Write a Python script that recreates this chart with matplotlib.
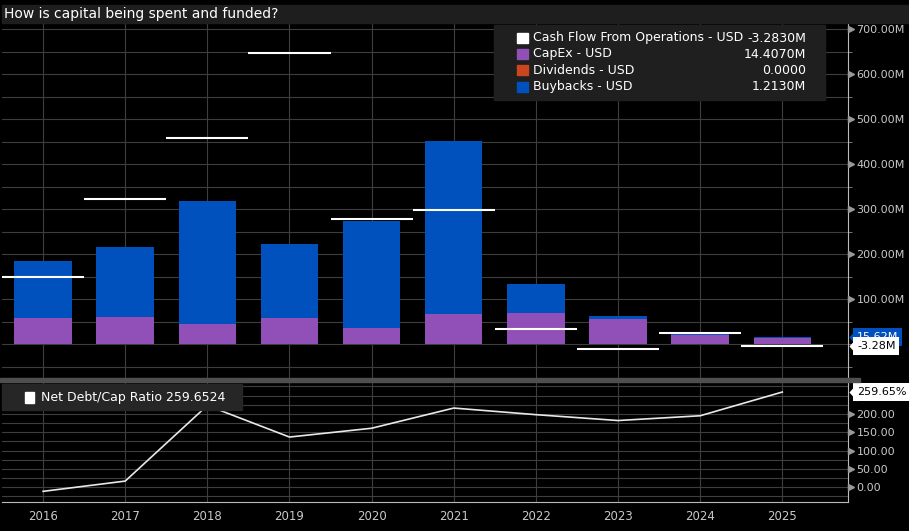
import numpy as np
import matplotlib.pyplot as plt
import matplotlib
from matplotlib.patches import Rectangle
import matplotlib.transforms as mtransforms
from matplotlib.ticker import MultipleLocator, FixedLocator, FuncFormatter

matplotlib.rcParams.update({'font.family': ['DejaVu Sans'], 'font.size': 10})

years = np.array([2016, 2017, 2018, 2019, 2020, 2021, 2022, 2023, 2024, 2025])
capex = np.array([58, 61, 45, 58, 36, 67, 70, 56, 20, 14.407])
dividends = np.array([0, 0, 0, 0, 0, 0, 0, 0, 0, 0.0])
buybacks = np.array([126, 155, 273, 166, 238, 385, 64, 7, 6, 1.213])
cfo = np.array([150, 324, 458, 647, 279, 299, 35, -10, 26, -3.283])
debt_cap = np.array([-11, 17, 223, 137, 161, 216, 198, 182, 195, 259.6524])

legend_labels = ['Cash Flow From Operations - USD', 'CapEx - USD', 'Dividends - USD', 'Buybacks - USD']
legend_values = ['-3.2830M', '14.4070M', '0.0000', '1.2130M']

WHITE = '#ffffff'
PURPLE = '#9150b8'
ORANGE = '#c9461f'
BLUE = '#0051bd'
legend_colors = [WHITE, PURPLE, ORANGE, BLUE]
GRID = '#3e3e3e'
TXT = '#c8c8c8'

W, H = 909, 531
fig = plt.figure(figsize=(W / 100, H / 100), dpi=100, facecolor='black')


def fx(px):
    return px / W


def fy(py):
    return 1 - py / H


def px_rect(x0, y0, x1, y1, color, z=5):
    fig.patches.append(Rectangle((fx(x0), fy(y1)), (x1 - x0) / W, (y1 - y0) / H,
                                 transform=fig.transFigure, color=color, zorder=z))


ax = fig.add_axes([fx(2), fy(378), fx(848) - fx(2), fy(24) - fy(378)], facecolor='black')
ax2 = fig.add_axes([fx(2), fy(502), fx(848) - fx(2), fy(382) - fy(502)], facecolor='black', sharex=ax)

# upper panel: stacked bars + cash flow lines
ax.bar(years, capex, 0.7, color=PURPLE, zorder=3)
ax.bar(years, dividends, 0.7, bottom=capex, color=ORANGE, zorder=3)
ax.bar(years, buybacks, 0.7, bottom=capex + dividends, color=BLUE, zorder=3)
ax.hlines(cfo, years - 0.5, years + 0.5, color=WHITE, lw=1.5, zorder=4)

up_ticks = [100, 200, 300, 400, 500, 600, 700]
ax.set_xlim(2015.5, 2025.8)
ax.set_ylim(-75, 712)
ax.yaxis.set_major_locator(FixedLocator(up_ticks))
ax.yaxis.set_minor_locator(MultipleLocator(50))
ax.yaxis.set_major_formatter(FuncFormatter(lambda v, p: '%.2fM' % v))
ax.yaxis.tick_right()
ax.tick_params(axis='y', which='major', length=0, pad=6, labelcolor=TXT, labelsize=8)
ax.tick_params(axis='y', which='minor', length=3, color='#888888', direction='out')
ax.tick_params(axis='x', length=0, labelbottom=False)
ax.set_xticks(years)
ax.grid(True, which='both', axis='y', color=GRID, lw=0.8)
ax.grid(True, axis='x', color=GRID, lw=0.8)
ax.set_axisbelow(True)
for s in ['top', 'bottom', 'left']:
    ax.spines[s].set_visible(False)
ax.spines['right'].set_color('#bbbbbb')

# lower panel: net debt / cap
low_ticks = [0, 50, 100, 150, 200]
ax2.plot(years, debt_cap, color='#e8e8e8', lw=1.2, zorder=3)
ax2.set_ylim(-40, 287)
ax2.yaxis.set_major_locator(FixedLocator(low_ticks))
ax2.yaxis.set_minor_locator(MultipleLocator(25))
ax2.yaxis.set_major_formatter(FuncFormatter(lambda v, p: '%.2f' % v))
ax2.yaxis.tick_right()
ax2.tick_params(axis='y', which='major', length=0, pad=6, labelcolor=TXT, labelsize=8)
ax2.tick_params(axis='y', which='minor', length=0)
ax2.set_xticks(years)
ax2.set_xticklabels([str(y) for y in years])
ax2.tick_params(axis='x', length=0, pad=6, labelcolor=TXT, labelsize=8.5)
ax2.grid(True, which='both', axis='y', color=GRID, lw=0.8)
ax2.grid(True, axis='x', color=GRID, lw=0.8)
ax2.set_axisbelow(True)
for s in ['top', 'left']:
    ax2.spines[s].set_visible(False)
ax2.spines['right'].set_color('#bbbbbb')
ax2.spines['bottom'].set_color('#bbbbbb')

# small arrow tick markers
for a, ticks in [(ax, up_ticks), (ax2, low_ticks)]:
    tr = mtransforms.blended_transform_factory(a.transAxes, a.transData)
    a.plot([1 + 3 / 846] * len(ticks), ticks, ls='', marker='>', ms=4, color='#999999',
           transform=tr, clip_on=False, zorder=6)

TIP = [(-0.45, 0), (0.45, 1), (0.45, -1)]


def tag(a, y, text, fc, tc, z):
    tr = mtransforms.blended_transform_factory(a.transAxes, a.transData)
    a.text(1 + 9 / 846, y, text, transform=tr, ha='left', va='center', color=tc, fontsize=8,
           bbox=dict(boxstyle='square,pad=0.35', fc=fc, ec='none'), zorder=z, clip_on=False)
    a.plot([1 + 5 / 846], [y], marker=TIP, ms=13, color=fc, mec='none',
           transform=tr, clip_on=False, zorder=z)


total_last = buybacks[-1] + capex[-1] + dividends[-1]
tag(ax, total_last, '%.2fM' % total_last, BLUE, WHITE, 10)
tag(ax, cfo[-1], '%.2fM' % cfo[-1], WHITE, 'black', 11)
tag(ax2, debt_cap[-1], '%.2f%%' % debt_cap[-1], WHITE, 'black', 11)

# panel separator and title band
px_rect(0, 378, 860, 382, '#4f4f4f', z=7)
px_rect(2, 5, 909, 23, '#1e1e1e', z=1)
fig.text(fx(4), fy(14), 'How is capital being spent and funded?', color=WHITE, fontsize=10,
         ha='left', va='center', zorder=8)

# upper legend
px_rect(494, 25, 825, 100, '#1f1f1f', z=8)
rows = [38, 54, 70, 87]
for r, lab, val, c in zip(rows, legend_labels, legend_values, legend_colors):
    px_rect(517, r - 5, 528, r + 5, c, z=9)
    fig.text(fx(533), fy(r), lab, color=WHITE, fontsize=9, ha='left', va='center', zorder=9)
    fig.text(fx(806), fy(r), val, color=WHITE, fontsize=9, ha='right', va='center', zorder=9)

# lower legend
px_rect(2, 384, 242, 410, '#262626', z=8)
px_rect(25, 392, 34, 403, WHITE, z=9)
fig.text(fx(41), fy(397), 'Net Debt/Cap Ratio %.4f' % debt_cap[-1], color=WHITE, fontsize=9,
         ha='left', va='center', zorder=9)

plt.savefig('out.png', dpi=100, facecolor='black')
